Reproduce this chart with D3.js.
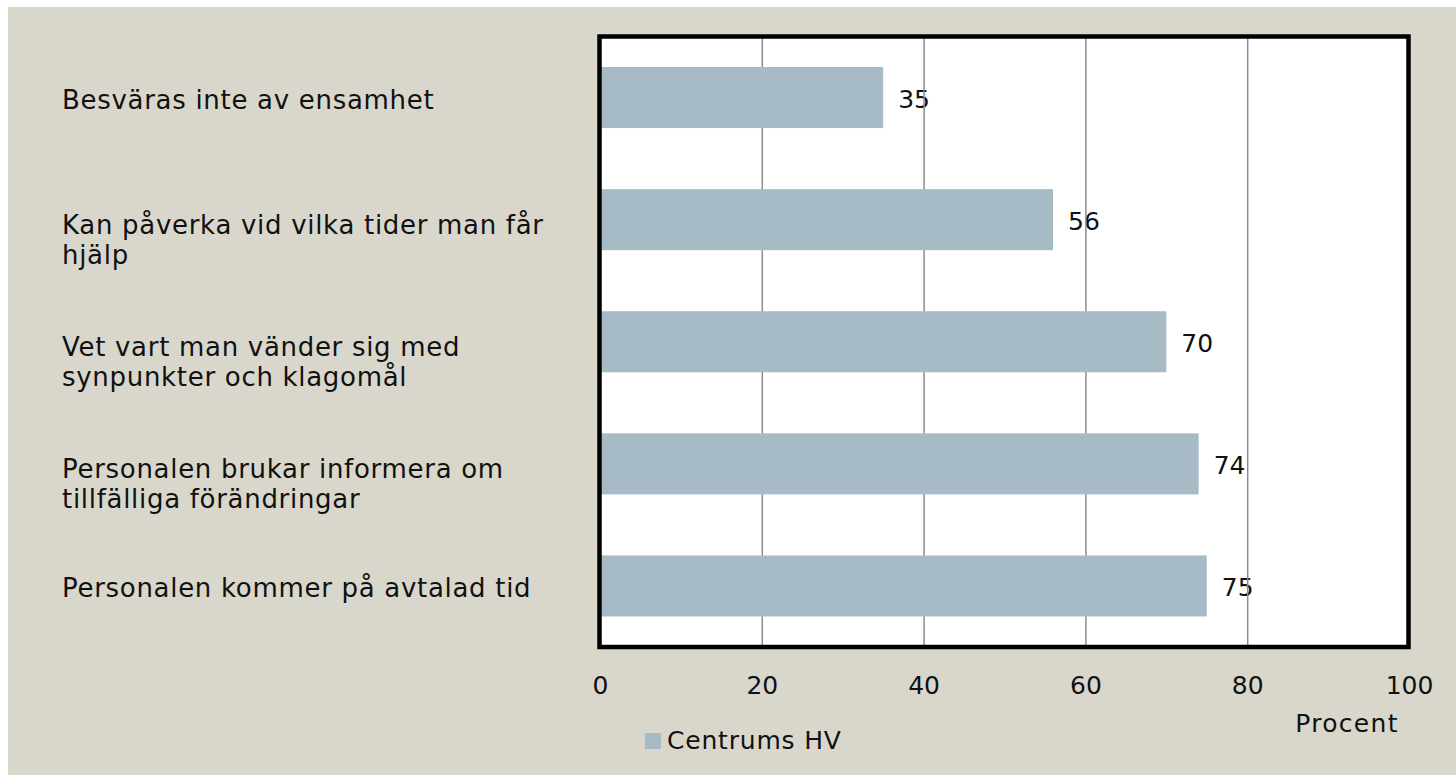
<!DOCTYPE html>
<html><head><meta charset="utf-8">
<script src="https://cdn.jsdelivr.net/npm/d3@7"></script>
<style>html,body{margin:0;padding:0;background:#fff;}svg{display:block;}</style>
</head><body>
<svg id="chart" width="1456" height="775"></svg>
<script>
const categories = [
  ["Besväras inte av ensamhet"],
  ["Kan påverka vid vilka tider man får", "hjälp"],
  ["Vet vart man vänder sig med", "synpunkter och klagomål"],
  ["Personalen brukar informera om", "tillfälliga förändringar"],
  ["Personalen kommer på avtalad tid"]
];
const values = [35, 56, 70, 74, 75];
const xTicks = [0, 20, 40, 60, 80, 100];
const seriesName = "Centrums HV";
const axisTitle = "Procent";

(function () {
const FONT = "'DejaVu Sans', sans-serif";
const svg = d3.select("#chart");
svg.append("rect").attr("x", 8).attr("y", 7).attr("width", 1448).attr("height", 768).attr("fill", "#d9d7cb");

const pl = 600, pr = 1409, pt = 36.5, pb = 647;
const x = d3.scaleLinear().domain([0, 100]).range([pl, pr]);
const y = d3.scaleBand().domain(d3.range(categories.length)).range([pt, pb]).paddingInner(0.5).paddingOuter(0.25);

svg.append("rect").attr("x", pl).attr("y", pt).attr("width", pr - pl).attr("height", pb - pt).attr("fill", "#fff");

// value labels (beneath gridlines)
svg.append("g").selectAll("text").data(values).join("text")
  .attr("x", d => x(d) + 15)
  .attr("y", (d, i) => y(i) + y.bandwidth() / 2 + 10.5)
  .attr("font-family", FONT).attr("font-size", 25).attr("fill", "#111")
  .text(d => d);

// gridlines via axis
const grid = svg.append("g").attr("transform", `translate(0,${pb})`)
  .call(d3.axisBottom(x).tickValues(xTicks.filter(t => t > 0 && t < 100)).tickSize(-(pb - pt)).tickFormat(""));
grid.select(".domain").remove();
grid.selectAll("line").attr("stroke", "#8c8c8c").attr("stroke-width", 1.5);

// bars
svg.append("g").selectAll("rect").data(values).join("rect")
  .attr("x", x(0)).attr("y", (d, i) => y(i))
  .attr("width", d => x(d) - x(0)).attr("height", y.bandwidth())
  .attr("fill", "#a7bbc7");

// frame
svg.append("rect").attr("x", pl - 0.5).attr("y", pt).attr("width", pr - pl).attr("height", pb - pt)
  .attr("fill", "none").attr("stroke", "#000").attr("stroke-width", 4.5);

// x tick labels
const xa = svg.append("g").attr("transform", `translate(0,${pb})`)
  .call(d3.axisBottom(x).tickValues(xTicks).tickSize(0).tickPadding(0));
xa.select(".domain").remove();
xa.selectAll("text").attr("y", 47).attr("dy", 0).attr("font-family", FONT).attr("font-size", 25).attr("fill", "#111");

svg.append("text").attr("x", 1347).attr("y", 732).attr("text-anchor", "middle")
  .attr("font-family", FONT).attr("font-size", 25).attr("letter-spacing", 1.3).attr("fill", "#111").text(axisTitle);

// category labels
const cat = svg.append("g").selectAll("text").data(categories).join("text")
  .attr("font-family", FONT).attr("font-size", 26).attr("letter-spacing", 0.7).attr("fill", "#111");
cat.each(function(lines, i) {
  const c = y(i) + y.bandwidth() / 2;
  const t = d3.select(this);
  lines.forEach((l, k) => {
    t.append("tspan").attr("x", 62)
      .attr("y", lines.length === 1 ? c + 11.5 : c + 14.5 + k * 29.5)
      .text(l);
  });
});

// legend
svg.append("rect").attr("x", 645).attr("y", 733).attr("width", 16).attr("height", 16).attr("fill", "#a7bbc7");
svg.append("text").attr("x", 667).attr("y", 748.5).attr("font-family", FONT).attr("font-size", 25).attr("letter-spacing", 0.8).attr("fill", "#111").text(seriesName);
})();
</script>
</body></html>
